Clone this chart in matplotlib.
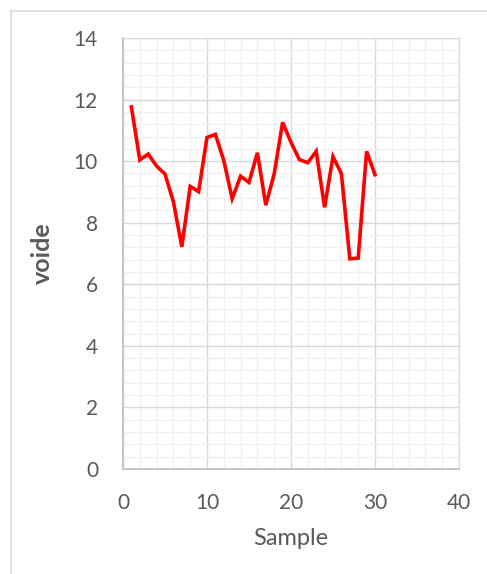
import matplotlib.pyplot as plt
from matplotlib.lines import Line2D
from matplotlib.ticker import MultipleLocator

# voide measured per sample
samples = list(range(1, 31))
voide = [11.76, 10.04, 10.23, 9.84, 9.58, 8.68, 7.22, 9.18, 9.01, 10.77,
         10.87, 10.02, 8.78, 9.51, 9.31, 10.27, 8.57, 9.59, 11.26, 10.61,
         10.05, 9.95, 10.32, 8.50, 10.15, 9.59, 6.83, 6.85, 10.32, 9.56]

x_ticks = [0, 10, 20, 30, 40]
y_ticks = [0, 2, 4, 6, 8, 10, 12, 14]

plt.rcParams['font.family'] = ['Lato', 'DejaVu Sans']
text_col = '#595959'

fig = plt.figure(figsize=(4.87, 5.74), dpi=100)
ax = fig.add_axes([123 / 487, 105 / 574, 336 / 487, 431 / 574])

ax.plot(samples, voide, color='#ff0000', lw=2.6, solid_joinstyle='miter', zorder=3)

ax.set_xlim(0, 40)
ax.set_ylim(0, 14)
ax.set_xticks(x_ticks)
ax.set_yticks(y_ticks)
ax.xaxis.set_minor_locator(MultipleLocator(2))
ax.yaxis.set_minor_locator(MultipleLocator(0.4))
ax.grid(which='major', color='#d9d9d9', lw=1.0)
ax.grid(which='minor', color='#f0f0f0', lw=1.0)
ax.set_axisbelow(True)
ax.tick_params(which='both', length=0)
ax.tick_params(axis='x', pad=17, labelsize=15, labelcolor=text_col)
ax.tick_params(axis='y', pad=18, labelsize=15, labelcolor=text_col)

for side in ['top', 'right']:
    ax.spines[side].set_color('#d9d9d9')
for side in ['left', 'bottom']:
    ax.spines[side].set_color('#bfbfbf')
    ax.spines[side].set_linewidth(1.2)

ax.set_xlabel('Sample', fontsize=17, color=text_col, labelpad=11)
ax.set_ylabel('voide', fontsize=18, color=text_col, fontweight='bold', labelpad=14)

# chart frame lines along the top and left
fig.add_artist(Line2D([11 / 487, 1.0], [1 - 10.5 / 574, 1 - 10.5 / 574],
                      transform=fig.transFigure, color='#d9d9d9', lw=1.2))
fig.add_artist(Line2D([11 / 487, 11 / 487], [0, 1 - 10.5 / 574],
                      transform=fig.transFigure, color='#d9d9d9', lw=1.2))

fig.savefig('out.png', dpi=100)
